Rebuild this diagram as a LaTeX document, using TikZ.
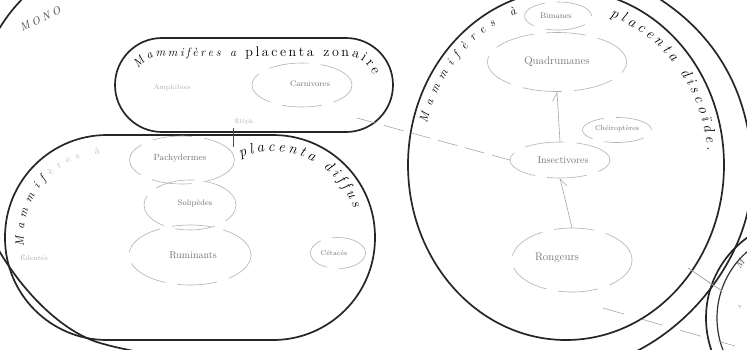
\documentclass[tikz,border=0pt]{standalone}
\usepackage{fontspec}
\usetikzlibrary{decorations.text,arrows.meta,shapes.geometric}
\begin{document}
\begin{tikzpicture}[x=1pt,y=1pt,
  bold/.style={line width=1.7pt, draw=black!85},
  faint/.style={line width=0.6pt, draw=black!35},
  spec/.style={text=black!55, inner sep=0pt},
  oval/.style={ellipse, draw=black!30, line width=0.6pt, dash pattern=on 40pt off 12pt, inner sep=0pt},
  lbl/.style={decorate, decoration={text along path, text align=fit to path, text={#1}}},
]
\useasboundingbox (0,0) rectangle (747,-349);
\clip (0,0) rectangle (747,-349);
\fill[white] (0,0) rectangle (747,-349);

% outer enclosing curve (Monodelphes)
\draw[bold] (-32,-150) .. controls (-32,-50) and (20,30) .. (100,40) -- (500,45)
  .. controls (620,45) and (752,-20) .. (752,-175)
  .. controls (752,-260) and (680,-345) .. (600,-365)
  .. controls (450,-380) and (200,-372) .. (100,-343)
  .. controls (40,-325.6) and (-32,-230) .. cycle;
\node[rotate=25, anchor=base west, text=black!80, font=\fontsize{11}{11}\selectfont\itshape] (mono) at (19,-33) {M\hspace{3pt}O\hspace{3pt}N\hspace{3pt}O};

% placenta zonaire
\draw[bold, rounded corners=47pt] (115,-38) rectangle (393,-132);
\path[lbl={|\fontsize{12}{12}\selectfont\itshape|Mammifères a |\fontsize{14}{14}\selectfont|placenta zonaire}]
  (162,-85) ++(145:29) arc[start angle=145, end angle=90, radius=29] -- (346,-56) arc[start angle=90, end angle=20, radius=29];

% placenta diffus
\draw[bold, rounded corners=102pt] (5,-135) rectangle (375,-340);
\path[lbl={|\fontsize{12}{12}\selectfont\itshape|Mammif|\color{black!25}|ères à}]
  (107.5,-237.5) ++(186:84) arc[start angle=186, end angle=95, radius=84];
\path[lbl={|\fontsize{15}{15}\selectfont\itshape|placenta diffus}]
  (272.5,-237.5) ++(112:86) arc[start angle=112, end angle=20, radius=86];

% placenta discoide
\draw[bold] (566,-165) ellipse[x radius=158, y radius=175];
\path[lbl={|\fontsize{12}{12}\selectfont\itshape|Mammifères à}]
  (566,-165) ++(165:144 and 161) arc[start angle=165, end angle=110, x radius=144, y radius=161];
\path[lbl={|\fontsize{15}{15}\selectfont\itshape|placenta discoïde.}]
  (566,-165) ++(72:142 and 156) arc[start angle=72, end angle=5, x radius=142, y radius=156];

% marsupials circle (bottom right)
\draw[bold] (805,-318) circle[radius=99];
\draw[line width=1.2pt, draw=black!80] (805,-318) circle[radius=88];
\node[rotate=55, text=black!70, font=\fontsize{10}{10}\selectfont\itshape] (mar) at (740,-264) {M};
\node[text=black!40, font=\fontsize{7}{7}\selectfont] (marv) at (740,-307) {v};

% species: zonaire
\node[oval, minimum width=100, minimum height=44] (carn) at (302,-85) {};
\node[spec, font=\fontsize{8}{8}\selectfont] (carnt) at (310,-84) {Carnivores};
\node[spec, text=black!30, font=\fontsize{7}{7}\selectfont] (amph) at (172,-88) {Amphibies};
\node[spec, text=black!30, font=\fontsize{6}{6}\selectfont] (ele) at (245,-121) {Éléph.};

% species: diffus
\node[oval, minimum width=105, minimum height=48] (pach) at (182,-160) {};
\node[spec, font=\fontsize{9}{9}\selectfont] (pacht) at (180,-158) {Pachydermes};
\node[oval, minimum width=92, minimum height=50] (sol) at (190,-205) {};
\node[spec, font=\fontsize{8}{8}\selectfont] (solt) at (195,-203) {Solipèdes};
\node[oval, minimum width=122, minimum height=60] (rum) at (190,-255) {};
\node[spec, font=\fontsize{10}{10}\selectfont] (rumt) at (193,-255) {Ruminants};
\node[oval, minimum width=55, minimum height=31] (cet) at (338,-253) {};
\node[spec, font=\fontsize{7}{7}\selectfont] (cett) at (334,-253) {Cétacés};
\node[spec, text=black!30, font=\fontsize{7}{7}\selectfont] (ede) at (34,-257) {Édentés};

% species: discoide
\node[oval, minimum width=67, minimum height=28] (bim) at (558,-16) {};
\node[spec, font=\fontsize{8}{8}\selectfont] (bimt) at (556,-16) {Bimanes};
\node[oval, minimum width=139, minimum height=59] (quad) at (557,-62) {};
\node[spec, font=\fontsize{11}{11}\selectfont] (quadt) at (557,-62) {Quadrumanes};
\node[oval, minimum width=69, minimum height=25] (chei) at (617,-130) {};
\node[spec, font=\fontsize{7}{7}\selectfont] (cheit) at (617,-129) {Chéiroptères};
\node[oval, minimum width=100, minimum height=36] (ins) at (560,-160) {};
\node[spec, font=\fontsize{10}{10}\selectfont] (inst) at (563,-160) {Insectivores};
\node[oval, minimum width=120, minimum height=64] (ron) at (572,-260) {};
\node[spec, font=\fontsize{11}{11}\selectfont] (ront) at (557,-258) {Rongeurs};

% connectors
\coordinate (z1) at (233,-128);
\coordinate (z2) at (233,-147);
\draw[line width=0.8pt, black!70] (z1) -- (z2);
\coordinate (c1) at (357,-118);
\draw[faint, dash pattern=on 20pt off 8pt] (c1) -- (ins.west);
\draw[faint, -{Straight Barb[harpoon, length=8pt, width=10pt]}] (ins.north) -- (quad.south);
\draw[faint, -{Straight Barb[harpoon, swap, length=8pt, width=10pt]}] (ron.north) -- (ins.south);
\coordinate (r1) at (603,-308);
\coordinate (r2) at (735,-346);
\draw[faint, dash pattern=on 22pt off 18pt] (r1) -- (r2);
\coordinate (r3) at (688,-268);
\coordinate (r4) at (722,-291);
\draw[faint, line width=0.8pt] (r3) -- (r4);
\end{tikzpicture}
\end{document}
